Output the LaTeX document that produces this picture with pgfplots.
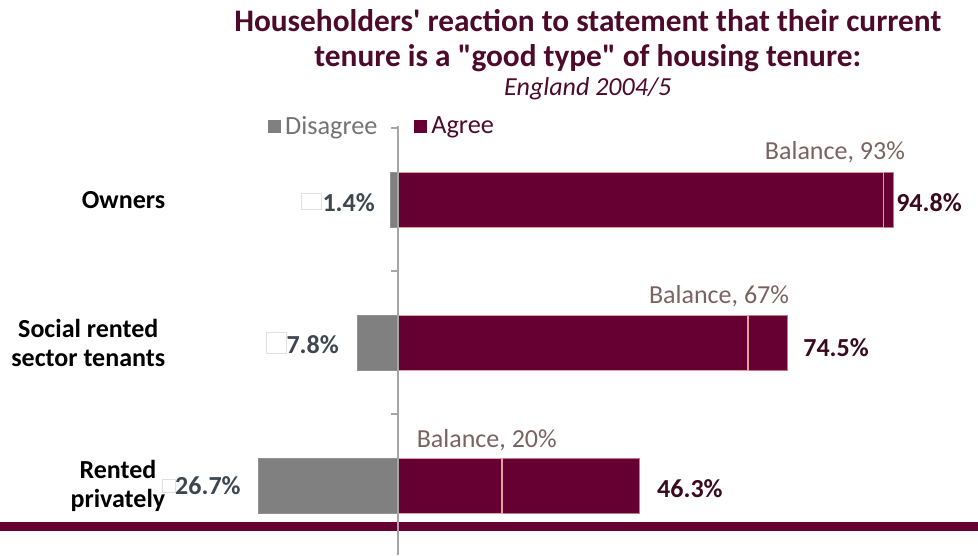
\documentclass[border=0pt]{standalone}
\usepackage{fontspec}
\setmainfont{Carlito}[Ligatures=TeXOff]
\usepackage{pgfplots}
\pgfplotsset{compat=1.18}
\definecolor{maroon}{HTML}{660033}
\definecolor{titlec}{HTML}{4E0A2A}
\definecolor{dgray}{HTML}{808080}
\definecolor{pinkedge}{HTML}{E2A0A0}
\definecolor{dlab}{HTML}{3E4650}
\definecolor{alab}{HTML}{3A0A1F}
\definecolor{blab}{HTML}{7A6262}
\definecolor{axgray}{HTML}{A6A6A6}
\begin{document}
\begin{tikzpicture}
\begin{axis}[
  width=733.5pt, height=416.25pt, scale only axis,
  xmin=-76.25, xmax=111.11, ymin=-0.4825, ymax=3.3986,
  hide axis, clip=false,
  legend style={at={(rel axis cs:0.274,0.773)}, anchor=west, draw=none, fill=none,
    font=\fontsize{19.7}{23}\selectfont, legend columns=2,
    nodes={inner xsep=3.5pt, inner ysep=0pt},
    /tikz/every even column/.append style={column sep=24pt},
    inner sep=0pt, outer sep=0pt},
  legend cell align=left,
]
\path (rel axis cs:0,0) rectangle (rel axis cs:1,1);
% decorative band
\fill[maroon] (axis cs:-76.25,-0.252) rectangle (axis cs:111.11,-0.315);

\addplot[xbar, bar shift=0pt, bar width=0.385, fill=dgray, draw=dgray!85,
  legend image code/.code={\fill[dgray] (0pt,-4.5pt) rectangle (9pt,4.5pt);}]
  coordinates {(-1.4,2) (-7.8,1) (-26.7,0)};
\addlegendentry{\textcolor{dgray!90!black}{Disagree}}
\addplot[xbar, bar shift=0pt, bar width=0.385, fill=maroon, draw=pinkedge!75!maroon,
  legend image code/.code={\fill[maroon] (0pt,-4.5pt) rectangle (9pt,4.5pt);}]
  coordinates {(94.8,2) (74.5,1) (46.3,0)};
\addlegendentry{\textcolor{titlec}{Agree}}
\addplot[xbar, bar shift=0pt, bar width=0.385, fill=none, draw=pinkedge, line width=1.4pt]
  coordinates {(93,2) (67,1) (20,0)};

% small label boxes
\draw[black!12, fill=white, line width=0.6pt] (axis cs:-18.6,2.049) rectangle (axis cs:-14.75,1.937);
\draw[black!12, fill=white, line width=0.6pt] (axis cs:-25.3,1.077) rectangle (axis cs:-21.3,0.930);
\draw[black!12, fill=white, line width=0.6pt] (axis cs:-45.2,0.049) rectangle (axis cs:-42.7,-0.042);

% disagree labels
\addplot[draw=none, mark=none, nodes near coords, point meta=explicit symbolic,
  every node near coord/.append style={anchor=east, text=dlab, inner sep=0pt,
    font=\fontsize{19.5}{22}\selectfont\bfseries}]
  coordinates {(-4.4,1.98) [1.4\%] (-11.3,0.99) [7.8\%] (-30.1,0.0) [26.7\%]};
% agree labels
\addplot[draw=none, mark=none, nodes near coords, point meta=explicit symbolic,
  every node near coord/.append style={anchor=west, text=alab, inner sep=0pt,
    font=\fontsize{19.5}{22}\selectfont\bfseries}]
  coordinates {(95.4,1.98) [94.8\%] (77.6,0.97) [74.5\%] (49.6,-0.02) [46.3\%]};
% balance labels
\addplot[draw=none, mark=none, nodes near coords, point meta=explicit symbolic,
  every node near coord/.append style={anchor=center, text=blab, inner sep=0pt,
    font=\fontsize{19.5}{22}\selectfont}]
  coordinates {(83.7,2.336) [{Balance, 93\%}] (61.5,1.329) [{Balance, 67\%}] (17.0,0.322) [{Balance, 20\%}]};

% vertical axis
\draw[axgray, line width=1.5pt] (axis cs:0,2.52) -- (axis cs:0,-0.4825);
\draw[axgray, line width=1.5pt] (axis cs:0,0.5) -- ([xshift=-5pt]axis cs:0,0.5);
\draw[axgray, line width=1.5pt] (axis cs:0,1.5) -- ([xshift=-5pt]axis cs:0,1.5);
\draw[axgray, line width=1.5pt] (axis cs:0,2.5) -- ([xshift=-5pt]axis cs:0,2.5);

% category labels
\node[anchor=east, align=center, font=\fontsize{19.5}{22}\selectfont\bfseries] at (axis cs:-43.7,2) {Owners};
\node[anchor=east, align=center, font=\fontsize{19.5}{22}\selectfont\bfseries] at (axis cs:-43.7,1) {Social rented\\sector tenants};
\node[anchor=east, align=center, font=\fontsize{19.5}{22}\selectfont\bfseries] at (axis cs:-43.7,0) {Rented\\privately};

% titles
\node[font=\fontsize{23.5}{27}\selectfont\bfseries, text=titlec] at (rel axis cs:0.601,0.962) {Householders' reaction to statement that their current};
\node[font=\fontsize{23.5}{27}\selectfont\bfseries, text=titlec] at (rel axis cs:0.601,0.895) {tenure is a "good type" of housing tenure:};
\node[font=\fontsize{19.5}{23}\selectfont\itshape, text=titlec] at (rel axis cs:0.601,0.841) {England 2004/5};
\end{axis}
\end{tikzpicture}
\end{document}
